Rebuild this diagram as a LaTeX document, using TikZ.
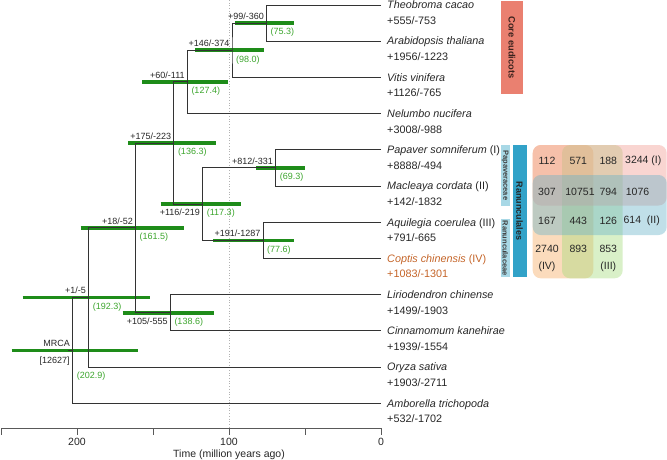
\documentclass[tikz,border=0pt]{standalone}
\usepackage{fontspec}
\setmainfont{Liberation Sans}
\definecolor{bargreen}{RGB}{30,140,25}
\definecolor{labgreen}{RGB}{60,165,45}
\definecolor{coptis}{RGB}{196,100,40}
\definecolor{coreeu}{RGB}{234,128,112}
\definecolor{papbox}{RGB}{168,216,230}
\definecolor{ranbox}{RGB}{50,162,200}
\definecolor{setI}{RGB}{240,155,145}
\definecolor{setII}{RGB}{105,178,200}
\definecolor{setIII}{RGB}{165,220,125}
\definecolor{setIV}{RGB}{245,170,95}
\tikzset{
  tree/.style={draw=black!80, line width=0.9pt},
  hpd/.style={draw=bargreen, line width=3.6pt},
  nlab/.style={font=\fontsize{9}{10}\selectfont, inner sep=0pt, text=black!85},
  glab/.style={font=\fontsize{9}{10}\selectfont, inner sep=0pt, text=labgreen, anchor=base west},
  tipname/.style={font=\fontsize{10.8}{12}\selectfont\itshape, inner sep=0pt, anchor=base west, text=black!85},
  tipval/.style={font=\fontsize{10.8}{12}\selectfont, inner sep=0pt, anchor=base west, text=black!85},
  vnum/.style={font=\fontsize{10.5}{12}\selectfont, inner sep=0pt, text=black!85},
  vset/.style={rounded corners=8pt, fill opacity=0.42, draw=none},
  axisline/.style={draw=black!65, line width=0.8pt},
  axl/.style={font=\fontsize{10.5}{12}\selectfont, inner sep=0pt, text=black!85},
  cladetxt/.style={font=\bfseries, inner sep=0pt, rotate=-90},
}
\begin{document}
\begin{tikzpicture}[x=1pt,y=-1pt]
\useasboundingbox (0,0) rectangle (667,460);

% dotted reference line at 100 Ma
\draw[black!30, dotted, line width=0.7pt] (229,0) -- (229,428);

% tip coordinates
\foreach \i/\y in {0/5,1/41.2,2/77.4,3/113.6,4/149.8,5/186,6/222.2,7/258.4,8/294.6,9/330.8,10/367,11/403.2}
  \coordinate (T\i) at (381,\y);

% internal nodes
\coordinate (A) at (266.5,23.1);
\coordinate (B) at (232.0,50.25);
\coordinate (C) at (187.35,81.9);
\coordinate (P) at (275.7,167.9);
\coordinate (R2) at (263.05,240.3);
\coordinate (R) at (202.7,204.1);
\coordinate (D) at (173.8,143.0);
\coordinate (L) at (170.3,312.7);
\coordinate (E) at (135.5,227.9);
\coordinate (F) at (88.7,297.4);
\coordinate (M) at (72.6,350.3);
\coordinate (M0) at (68,350.3);

% HPD bars
\draw[hpd] (235,23.1) -- (294.3,23.1);
\draw[hpd] (195,50.25) -- (264,50.25);
\draw[hpd] (142,81.9) -- (227.7,81.9);
\draw[hpd] (128,143.0) -- (216.3,143.0);
\draw[hpd] (256,167.9) -- (304.5,167.9);
\draw[hpd] (160.7,204.1) -- (240.7,204.1);
\draw[hpd] (213.3,240.3) -- (294,240.3);
\draw[hpd] (80.7,227.9) -- (184.3,227.9);
\draw[hpd] (122.7,312.7) -- (214,312.7);
\draw[hpd] (22.7,297.4) -- (150,297.4);
\draw[hpd] (11.7,350.3) -- (138.3,350.3);

% tree
\draw[tree] (T0) -| (A) |- (T1);
\draw[tree] (A) -| (B) |- (T2);
\draw[tree] (B) -| (C) |- (T3);
\draw[tree] (T4) -| (P) |- (T5);
\draw[tree] (T6) -| (R2) |- (T7);
\draw[tree] (P) -| (R) |- (R2);
\draw[tree] (C) -| (D) |- (R);
\draw[tree] (T8) -| (L) |- (T9);
\draw[tree] (D) -| (E) |- (L);
\draw[tree] (E) -| (F) |- (T10);
\draw[tree] (F) -| (M) |- (T11);
\draw[tree] (M0) -- (M);

% node labels
\node[nlab, anchor=base east] (lA) at (264,19.3) {+99/-360};
\node[glab] (gA) at (270.5,34.9) {(75.3)};
\node[nlab, anchor=base east] (lB) at (229.5,46.45) {+146/-374};
\node[glab] (gB) at (236,62.05) {(98.0)};
\node[nlab, anchor=base east] (lC) at (184.8,78.1) {+60/-111};
\node[glab] (gC) at (191.3,93.7) {(127.4)};
\node[nlab, anchor=base east] (lD) at (171.3,139.2) {+175/-223};
\node[glab] (gD) at (177.8,154.8) {(136.3)};
\node[nlab, anchor=base east] (lP) at (273.2,164.1) {+812/-331};
\node[glab] (gP) at (279.7,179.7) {(69.3)};
\node[nlab, anchor=base east] (lR2) at (260.5,236.5) {+191/-1287};
\node[glab] (gR2) at (267,252.1) {(77.6)};
\node[nlab, anchor=base east] (lR) at (200.2,215.9) {+116/-219};
\node[glab] (gR) at (206.7,215.9) {(117.3)};
\node[nlab, anchor=base east] (lL) at (167.8,324.5) {+105/-555};
\node[glab] (gL) at (174.3,324.5) {(138.6)};
\node[nlab, anchor=base east] (lE) at (133,224.1) {+18/-52};
\node[glab] (gE) at (139.5,239.7) {(161.5)};
\node[nlab, anchor=base east] (lF) at (86.2,293.6) {+1/-5};
\node[glab] (gF) at (92.7,309.2) {(192.3)};
\node[nlab, anchor=base east] (lM) at (70.1,346.5) {MRCA};
\node[nlab, anchor=base east] (lM2) at (69.8,363.9) {[12627]};
\node[glab] (gM) at (76.6,378) {(202.9)};

% tip labels
\node[tipname] (n0) at (387,8.8) {Theobroma cacao};
\node[tipval] (v0) at (387,24.5) {+555/-753};
\node[tipname] (n1) at (387,45) {Arabidopsis thaliana};
\node[tipval] (v1) at (387,60.7) {+1956/-1223};
\node[tipname] (n2) at (387,81.2) {Vitis vinifera};
\node[tipval] (v2) at (387,96.9) {+1126/-765};
\node[tipname] (n3) at (387,117.4) {Nelumbo nucifera};
\node[tipval] (v3) at (387,133.1) {+3008/-988};
\node[tipname] (n4) at (387,153.6) {Papaver somniferum \textup{(I)}};
\node[tipval] (v4) at (387,169.3) {+8888/-494};
\node[tipname] (n5) at (387,189.8) {Macleaya cordata \textup{(II)}};
\node[tipval] (v5) at (387,205.5) {+142/-1832};
\node[tipname] (n6) at (387,226) {Aquilegia coerulea \textup{(III)}};
\node[tipval] (v6) at (387,241.7) {+791/-665};
\node[tipname, text=coptis] (n7) at (387,262.2) {Coptis chinensis \textup{(IV)}};
\node[tipval, text=coptis] (v7) at (387,277.9) {+1083/-1301};
\node[tipname] (n8) at (387,298.4) {Liriodendron chinense};
\node[tipval] (v8) at (387,314.1) {+1499/-1903};
\node[tipname] (n9) at (387,334.6) {Cinnamomum kanehirae};
\node[tipval] (v9) at (387,350.3) {+1939/-1554};
\node[tipname] (n10) at (387,370.8) {Oryza sativa};
\node[tipval] (v10) at (387,386.5) {+1903/-2711};
\node[tipname] (n11) at (387,407) {Amborella trichopoda};
\node[tipval] (v11) at (387,422.7) {+532/-1702};

% clade boxes
\fill[coreeu] (500.7,1) rectangle (523.3,94);
\node[cladetxt, font=\fontsize{9.3}{10}\selectfont\bfseries, text={rgb,255:red,60;green,35;blue,30}] (ce) at (512,47.5) {Core eudicots};
\fill[papbox] (501,145) rectangle (509.5,205.7);
\node[cladetxt, font=\fontsize{7.5}{8}\selectfont\bfseries, text=black!75] (pap) at (505.25,175.3) {Papaveraceae};
\fill[papbox] (501,219) rectangle (509.5,277.3);
\node[cladetxt, font=\fontsize{7.5}{8}\selectfont\bfseries, text=black!75] (ranc) at (505.25,248.2) {Ranunculaceae};
\fill[ranbox] (512.7,145) rectangle (526.5,277.3);
\node[cladetxt, font=\fontsize{9}{10}\selectfont\bfseries, text=black!85] (ranl) at (519.6,211.2) {Ranunculales};

% Venn-like sets
\fill[vset, setIV] (532.7,145) rectangle (593.3,278.3);
\fill[vset, setIII] (562,145) rectangle (622.7,278.3);
\fill[vset, setI] (532.7,145) rectangle (666.7,205.5);
\fill[vset, setII] (532.7,175) rectangle (666.7,235);

\node[vnum] (c11) at (547,160.7) {112};
\node[vnum] (c12) at (578.3,160.7) {571};
\node[vnum] (c13) at (608.3,160.7) {188};
\node[vnum] (c14) at (643.3,160.7) {3244 (I)};
\node[vnum] (c21) at (547,191.7) {307};
\node[vnum] (c22) at (580,191.7) {10751};
\node[vnum] (c23) at (608.3,191.7) {794};
\node[vnum] (c24) at (637.5,191.7) {1076};
\node[vnum] (c31) at (547,221) {167};
\node[vnum] (c32) at (578.3,221) {443};
\node[vnum] (c33) at (608.3,221) {126};
\node[vnum] (c34) at (641.7,221) {614\ \ (II)};
\node[vnum] (c41) at (547,249.3) {2740};
\node[vnum] (c42) at (578.3,249.3) {893};
\node[vnum] (c43) at (608.3,249.3) {853};
\node[vnum] (c51) at (547,266.7) {(IV)};
\node[vnum] (c53) at (608.3,266.7) {(III)};

% axis
\coordinate (ax0) at (1,428);
\coordinate (ax1) at (381,428);
\draw[axisline] (ax0) -- (ax1);
\foreach \t in {0,50,...,250} \draw[axisline] ({381-1.52*\t},428) -- ++(0,7);
\node[axl] (t200) at (77,442) {200};
\node[axl] (t100) at (229,442) {100};
\node[axl] (t0) at (381,442) {0};
\node[axl] (title) at (229,455) {Time (million years ago)};
\end{tikzpicture}
\end{document}
